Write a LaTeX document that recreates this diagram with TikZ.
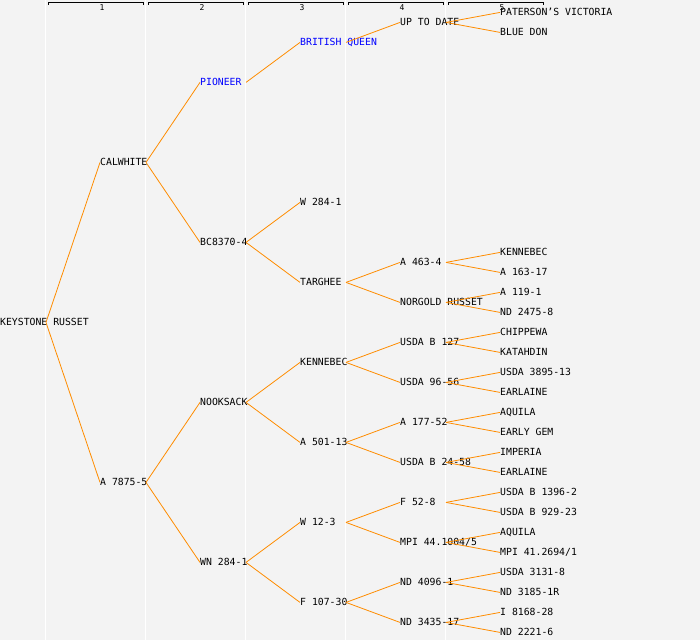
\documentclass[tikz,border=0pt]{standalone}
\usepackage{fontspec}
\setmonofont{DejaVu Sans Mono}
\definecolor{bgray}{HTML}{F3F3F3}
\definecolor{lineorange}{RGB}{255,140,0}

\tikzset{
  cultivar/.style={anchor=west, inner sep=0pt, text height=7pt, text depth=0pt,
    font=\ttfamily\fontsize{9.8}{12}\selectfont},
  link/.style={lineorange, line width=0.8pt},
  colnum/.style={inner sep=0pt, font=\ttfamily\fontsize{8}{9}\selectfont}
}

\begin{document}
\begin{tikzpicture}[x=1pt,y=-1pt]
        % background and column guides
        \fill[bgray] (0,0) rectangle (700,640);
        \draw[white, line width=0.8pt] (45,0) -- (45,640);
        \draw[white, line width=0.8pt] (45+100,0) -- (45+100,640);
        \draw[white, line width=0.8pt] (45+200,0) -- (45+200,640);
        \draw[white, line width=0.8pt] (45+300,0) -- (45+300,640);
        \draw[white, line width=0.8pt] (45+400,0) -- (45+400,640);

        % generation brackets
        \draw[line width=0.8pt] (48,4.5) -- (48,1.5) -- (143,1.5) -- (143,4.5);
        \node[colnum] (h1) at (102,7) {1};
        \draw[line width=0.8pt] (48+100,4.5) -- (48+100,1.5) -- (143+100,1.5) -- (143+100,4.5);
        \node[colnum] (h2) at (102+100,7) {2};
        \draw[line width=0.8pt] (48+200,4.5) -- (48+200,1.5) -- (143+200,1.5) -- (143+200,4.5);
        \node[colnum] (h3) at (102+200,7) {3};
        \draw[line width=0.8pt] (48+300,4.5) -- (48+300,1.5) -- (143+300,1.5) -- (143+300,4.5);
        \node[colnum] (h4) at (102+300,7) {4};
        \draw[line width=0.8pt] (48+400,4.5) -- (48+400,1.5) -- (143+400,1.5) -- (143+400,4.5);
        \node[colnum] (h5) at (102+400,7) {5};

        % generation 0 and 1
        \node[cultivar] (keystone) at (0,322) {KEYSTONE RUSSET};
        \node[cultivar] (calwhite) at (100,162) {CALWHITE};
        \node[cultivar] (a7875) at (100,482) {A 7875-5};

        % generation 2
        \node[cultivar, blue] (pioneer) at (200,82) {PIONEER};
        \node[cultivar] (bc8370) at (200,242) {BC8370-4};
        \node[cultivar] (nooksack) at (200,402) {NOOKSACK};
        \node[cultivar] (wn284) at (200,562) {WN 284-1};

        % generation 3
        \node[cultivar, blue] (britishq) at (300,42) {BRITISH QUEEN};
        \node[cultivar] (w284) at (300,202) {W 284-1};
        \node[cultivar] (targhee) at (300,282) {TARGHEE};
        \node[cultivar] (kennebecA) at (300,362) {KENNEBEC};
        \node[cultivar] (a501) at (300,442) {A 501-13};
        \node[cultivar] (w123) at (300,522) {W 12-3};
        \node[cultivar] (f107) at (300,602) {F 107-30};

        % generation 4
        \node[cultivar] (uptodate) at (400,22) {UP TO DATE};
        \node[cultivar] (a463) at (400,262) {A 463-4};
        \node[cultivar] (norgold) at (400,302) {NORGOLD RUSSET};
        \node[cultivar] (usdab127) at (400,342) {USDA B 127};
        \node[cultivar] (usda9656) at (400,382) {USDA 96-56};
        \node[cultivar] (a177) at (400,422) {A 177-52};
        \node[cultivar] (usdab24) at (400,462) {USDA B 24-58};
        \node[cultivar] (f528) at (400,502) {F 52-8};
        \node[cultivar] (mpi44) at (400,542) {MPI 44.1004/5};
        \node[cultivar] (nd4096) at (400,582) {ND 4096-1};
        \node[cultivar] (nd3435) at (400,622) {ND 3435-17};

        % generation 5
        \node[cultivar] (paterson) at (500,12) {PATERSON’S VICTORIA};
        \node[cultivar] (bluedon) at (500,32) {BLUE DON};
        \node[cultivar] (kennebecB) at (500,252) {KENNEBEC};
        \node[cultivar] (a16317) at (500,272) {A 163-17};
        \node[cultivar] (a1191) at (500,292) {A 119-1};
        \node[cultivar] (nd2475) at (500,312) {ND 2475-8};
        \node[cultivar] (chippewa) at (500,332) {CHIPPEWA};
        \node[cultivar] (katahdin) at (500,352) {KATAHDIN};
        \node[cultivar] (usda3895) at (500,372) {USDA 3895-13};
        \node[cultivar] (earlaineA) at (500,392) {EARLAINE};
        \node[cultivar] (aquilaA) at (500,412) {AQUILA};
        \node[cultivar] (earlygem) at (500,432) {EARLY GEM};
        \node[cultivar] (imperia) at (500,452) {IMPERIA};
        \node[cultivar] (earlaineB) at (500,472) {EARLAINE};
        \node[cultivar] (usdab1396) at (500,492) {USDA B 1396-2};
        \node[cultivar] (usdab929) at (500,512) {USDA B 929-23};
        \node[cultivar] (aquilaB) at (500,532) {AQUILA};
        \node[cultivar] (mpi41) at (500,552) {MPI 41.2694/1};
        \node[cultivar] (usda3131) at (500,572) {USDA 3131-8};
        \node[cultivar] (nd3185) at (500,592) {ND 3185-1R};
        \node[cultivar] (i8168) at (500,612) {I 8168-28};
        \node[cultivar] (nd2221) at (500,632) {ND 2221-6};

        % parent links
        \draw[link] ([xshift=46pt]keystone.west) -- (calwhite.west);
        \draw[link] ([xshift=46pt]keystone.west) -- (a7875.west);
        \draw[link] ([xshift=46pt]calwhite.west) -- (pioneer.west);
        \draw[link] ([xshift=46pt]calwhite.west) -- (bc8370.west);
        \draw[link] ([xshift=46pt]a7875.west) -- (nooksack.west);
        \draw[link] ([xshift=46pt]a7875.west) -- (wn284.west);
        \draw[link] ([xshift=46pt]pioneer.west) -- (britishq.west);
        \draw[link] ([xshift=46pt]bc8370.west) -- (w284.west);
        \draw[link] ([xshift=46pt]bc8370.west) -- (targhee.west);
        \draw[link] ([xshift=46pt]nooksack.west) -- (kennebecA.west);
        \draw[link] ([xshift=46pt]nooksack.west) -- (a501.west);
        \draw[link] ([xshift=46pt]wn284.west) -- (w123.west);
        \draw[link] ([xshift=46pt]wn284.west) -- (f107.west);
        \draw[link] ([xshift=46pt]britishq.west) -- (uptodate.west);
        \draw[link] ([xshift=46pt]targhee.west) -- (a463.west);
        \draw[link] ([xshift=46pt]targhee.west) -- (norgold.west);
        \draw[link] ([xshift=46pt]kennebecA.west) -- (usdab127.west);
        \draw[link] ([xshift=46pt]kennebecA.west) -- (usda9656.west);
        \draw[link] ([xshift=46pt]a501.west) -- (a177.west);
        \draw[link] ([xshift=46pt]a501.west) -- (usdab24.west);
        \draw[link] ([xshift=46pt]w123.west) -- (f528.west);
        \draw[link] ([xshift=46pt]w123.west) -- (mpi44.west);
        \draw[link] ([xshift=46pt]f107.west) -- (nd4096.west);
        \draw[link] ([xshift=46pt]f107.west) -- (nd3435.west);
        \draw[link] ([xshift=46pt]uptodate.west) -- (paterson.west);
        \draw[link] ([xshift=46pt]uptodate.west) -- (bluedon.west);
        \draw[link] ([xshift=46pt]a463.west) -- (kennebecB.west);
        \draw[link] ([xshift=46pt]a463.west) -- (a16317.west);
        \draw[link] ([xshift=46pt]norgold.west) -- (a1191.west);
        \draw[link] ([xshift=46pt]norgold.west) -- (nd2475.west);
        \draw[link] ([xshift=46pt]usdab127.west) -- (chippewa.west);
        \draw[link] ([xshift=46pt]usdab127.west) -- (katahdin.west);
        \draw[link] ([xshift=46pt]usda9656.west) -- (usda3895.west);
        \draw[link] ([xshift=46pt]usda9656.west) -- (earlaineA.west);
        \draw[link] ([xshift=46pt]a177.west) -- (aquilaA.west);
        \draw[link] ([xshift=46pt]a177.west) -- (earlygem.west);
        \draw[link] ([xshift=46pt]usdab24.west) -- (imperia.west);
        \draw[link] ([xshift=46pt]usdab24.west) -- (earlaineB.west);
        \draw[link] ([xshift=46pt]f528.west) -- (usdab1396.west);
        \draw[link] ([xshift=46pt]f528.west) -- (usdab929.west);
        \draw[link] ([xshift=46pt]mpi44.west) -- (aquilaB.west);
        \draw[link] ([xshift=46pt]mpi44.west) -- (mpi41.west);
        \draw[link] ([xshift=46pt]nd4096.west) -- (usda3131.west);
        \draw[link] ([xshift=46pt]nd4096.west) -- (nd3185.west);
        \draw[link] ([xshift=46pt]nd3435.west) -- (i8168.west);
        \draw[link] ([xshift=46pt]nd3435.west) -- (nd2221.west);
\end{tikzpicture}
\end{document}
